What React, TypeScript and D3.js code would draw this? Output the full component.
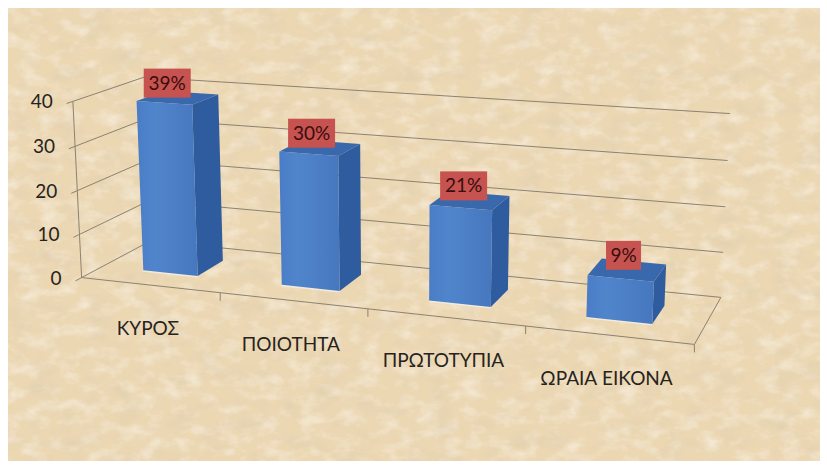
import React from "react";
import * as d3 from "d3";

// ---- data ----
const categories = ["ΚΥΡΟΣ", "ΠΟΙΟΤΗΤΑ", "ΠΡΩΤΟΤΥΠΙΑ", "ΩΡΑΙΑ ΕΙΚΟΝΑ"];
const values = [39, 30, 21, 9];
const valueLabels = ["39%", "30%", "21%", "9%"];
const yTicks = [0, 10, 20, 30, 40];

// ---- layout: screen positions of the plot box corners (world x:0..4, y:0..1, z:0..1) ----
const calib: [number, number, number, number, number][] = [
  [0, 0, 0, 82, 277],
  [1, 0, 0, 218.6, 292.5],
  [2, 0, 0, 369, 309],
  [3, 0, 0, 527, 326.5],
  [4, 0, 0, 693, 345],
  [0, 1, 0, 73, 101],
  [0, 1, 1, 144, 78],
  [4, 1, 1, 730, 113],
  [4, 0, 1, 721, 297],
];

function solveLinear(A: number[][], b: number[]): number[] {
  const n = b.length;
  const M = A.map((r, i) => [...r, b[i]]);
  for (let c = 0; c < n; c++) {
    let p = c;
    for (let r = c + 1; r < n; r++) if (Math.abs(M[r][c]) > Math.abs(M[p][c])) p = r;
    [M[c], M[p]] = [M[p], M[c]];
    for (let r = 0; r < n; r++) {
      if (r === c) continue;
      const f = M[r][c] / M[c][c];
      for (let k = c; k <= n; k++) M[r][k] -= f * M[c][k];
    }
  }
  return M.map((r, i) => r[n] / r[i]);
}

const U0 = 400, V0 = 200, S = 300;
function fitCamera() {
  const rows: number[][] = [];
  const rhs: number[] = [];
  calib.forEach(([X, Y, Z, u0, v0]) => {
    const u = (u0 - U0) / S, v = (v0 - V0) / S;
    rows.push([X, Y, Z, 1, 0, 0, 0, 0, -u * X, -u * Y, -u * Z]);
    rhs.push(u);
    rows.push([0, 0, 0, 0, X, Y, Z, 1, -v * X, -v * Y, -v * Z]);
    rhs.push(v);
  });
  const N: number[][] = Array.from({ length: 11 }, () => new Array(11).fill(0));
  const r: number[] = new Array(11).fill(0);
  rows.forEach((row, k) => {
    for (let i = 0; i < 11; i++) {
      r[i] += row[i] * rhs[k];
      for (let j = 0; j < 11; j++) N[i][j] += row[i] * row[j];
    }
  });
  return solveLinear(N, r);
}
const P = fitCamera();
function project(X: number, Y: number, Z: number): [number, number] {
  const w = P[8] * X + P[9] * Y + P[10] * Z + 1;
  const u = (P[0] * X + P[1] * Y + P[2] * Z + P[3]) / w;
  const v = (P[4] * X + P[5] * Y + P[6] * Z + P[7]) / w;
  return [U0 + S * u, V0 + S * v];
}

const xBand = d3.scaleBand<string>().domain(categories).range([0, 4]).paddingInner(0.6).paddingOuter(0.3);
const zBand = d3.scaleBand<string>().domain(["s"]).range([0, 1]).paddingInner(0.6).paddingOuter(0.3);
const yScale = d3.scaleLinear().domain([0, 40]).range([0, 1]);

const line = d3.line();
const poly = (pts: [number, number, number][]) => line(pts.map((p) => project(p[0], p[1], p[2])))! + "Z";
const seg = (a: [number, number, number], b: [number, number, number]) =>
  line([project(a[0], a[1], a[2]), project(b[0], b[1], b[2])])!;

const FONT = "Lato, 'Open Sans', sans-serif";
const gridColor = "#8c8272";

export default function App() {
  const z0 = zBand("s")!;
  const z1 = z0 + zBand.bandwidth();
  return (
    <svg width={827} height={468} style={{ position: "absolute", left: 0, top: 0 }}>
      <defs>
        <filter id="paper" x="0" y="0" width="1" height="1">
          <feFlood floodColor="#ebd7b2" result="base" />
          <feTurbulence type="fractalNoise" baseFrequency="0.035 0.06" numOctaves={5} seed={4} result="n1" />
          <feColorMatrix in="n1" type="matrix"
            values="0 0 0 0 0.72  0 0 0 0 0.6  0 0 0 0 0.42  1.2 0 0 0 -0.58" result="dark" />
          <feTurbulence type="fractalNoise" baseFrequency="0.05 0.08" numOctaves={4} seed={11} result="n2" />
          <feColorMatrix in="n2" type="matrix"
            values="0 0 0 0 0.99  0 0 0 0 0.95  0 0 0 0 0.86  0 1.1 0 0 -0.5" result="light" />
          <feMerge>
            <feMergeNode in="base" />
            <feMergeNode in="light" />
            <feMergeNode in="dark" />
          </feMerge>
        </filter>
        <linearGradient id="front" x1="0" x2="1" y1="0" y2="0">
          <stop offset="0" stopColor="#4a7dc6" />
          <stop offset="0.3" stopColor="#5085cc" />
          <stop offset="1" stopColor="#4677bf" />
        </linearGradient>
      </defs>
      <rect x={0} y={0} width={827} height={468} fill="#ffffff" />
      <rect x={8} y={8} width={812} height={453} fill="#ebd7b2" filter="url(#paper)" />

      {/* walls gridlines */}
      <g stroke={gridColor} strokeWidth={1} fill="none">
        {yTicks.map((t) => (
          <g key={t}>
            <path d={seg([0, yScale(t), 0], [0, yScale(t), 1])} />
            <path d={seg([0, yScale(t), 1], [4, yScale(t), 1])} />
            <path d={seg([0, yScale(t), 0], [0, yScale(t), -0.08])} />
          </g>
        ))}
        <path d={seg([0, 0, 0], [0, 1, 0])} />
        <path d={seg([0, 0, 0], [4, 0, 0])} />
        <path d={seg([4, 0, 0], [4, 0, 1])} />
        {d3.range(1, 5).map((k) => {
          const [x, y] = project(k, 0, 0);
          return <path key={k} d={`M${x},${y}V${y + 8}`} />;
        })}
      </g>

      {/* y tick labels */}
      {yTicks.map((t) => {
        const [x, y] = project(0, yScale(t), 0);
        return (
          <text key={t} x={x - 20} y={y + 7} textAnchor="end" fontFamily={FONT} fontSize={19} fill="#26231e">
            {t}
          </text>
        );
      })}

      {/* bars */}
      {categories.map((c, i) => {
        const x0 = xBand(c)!;
        const x1 = x0 + xBand.bandwidth();
        const h = yScale(values[i]);
        return (
          <g key={c}>
            <path d={seg([x0, 0, z0], [x1, 0, z0])} stroke="#f4f0e6" strokeWidth={3} opacity={0.8} />
            <path d={poly([[x1, 0, z0], [x1, 0, z1], [x1, h, z1], [x1, h, z0]])} fill="#2f5c9e" />
            <path d={poly([[x0, h, z0], [x1, h, z0], [x1, h, z1], [x0, h, z1]])} fill="#3a68ad" />
            <path d={poly([[x0, 0, z0], [x1, 0, z0], [x1, h, z0], [x0, h, z0]])} fill="url(#front)" />
          </g>
        );
      })}

      {/* value labels */}
      {categories.map((c, i) => {
        const xc = xBand(c)! + xBand.bandwidth() / 2;
        const [x] = project(xc, yScale(values[i]), z0);
        const [, y] = project(xc, yScale(values[i]), (z0 + z1) / 2);
        const w = 12 * valueLabels[i].length + 11;
        const hgt = 29;
        const cx = x + 3;
        return (
          <g key={c}>
            <rect x={cx - w / 2} y={y - hgt} width={w} height={hgt} fill="#c6534f" />
            <text x={cx} y={y - 8} textAnchor="middle" fontFamily={FONT} fontSize={19} fill="#3a0d0d">
              {valueLabels[i]}
            </text>
          </g>
        );
      })}

      {/* category labels */}
      {categories.map((c) => {
        const xc = xBand(c)! + xBand.bandwidth() / 2;
        const [x, y] = project(xc, 0, 0);
        return (
          <text key={c} x={x - 2} y={y + 50} textAnchor="middle" fontFamily={FONT} fontSize={19} fill="#26231e">
            {c}
          </text>
        );
      })}
    </svg>
  );
}
